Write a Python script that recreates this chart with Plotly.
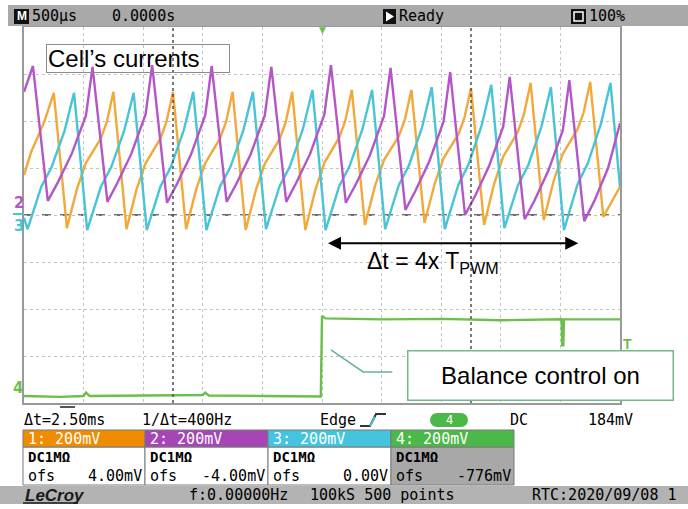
import plotly.graph_objects as go

# ---------------- data (time in ms, amplitude in divisions) ----------------
ch1_t = [0.000, 0.060, 0.170, 0.250,
         0.360, 0.445, 0.520, 0.645, 0.695, 0.750,
         0.860, 0.945, 1.020, 1.145, 1.195, 1.250,
         1.360, 1.445, 1.520, 1.645, 1.695, 1.750,
         1.860, 1.945, 2.020, 2.145, 2.195, 2.250,
         2.360, 2.445, 2.520, 2.645, 2.695, 2.750,
         2.860, 2.945, 3.020, 3.145, 3.195, 3.250,
         3.360, 3.445, 3.520, 3.645, 3.695, 3.750,
         3.860, 3.945, 4.020, 4.145, 4.195, 4.250,
         4.360, 4.445, 4.520, 4.645, 4.695, 4.750,
         4.860, 4.945, 5.000]
ch1_v = [0.85, 1.34, 1.98, 2.60,
         -0.28, 0.56, 1.11, 1.63, 1.98, 2.62,
         -0.30, 0.55, 1.10, 1.63, 1.98, 2.62,
         -0.30, 0.55, 1.10, 1.63, 1.98, 2.62,
         -0.32, 0.53, 1.09, 1.62, 1.97, 2.62,
         -0.32, 0.54, 1.11, 1.65, 2.00, 2.66,
         -0.21, 0.62, 1.17, 1.68, 2.03, 2.66,
         -0.17, 0.66, 1.21, 1.72, 2.07, 2.70,
         -0.21, 0.67, 1.24, 1.78, 2.15, 2.81,
         -0.11, 0.74, 1.30, 1.83, 2.18, 2.83,
         -0.04, 0.35, 0.60]

ch2_t = [0.000, 0.075,
         0.200, 0.285, 0.400, 0.520, 0.575,
         0.700, 0.785, 0.900, 1.020, 1.075,
         1.200, 1.285, 1.400, 1.520, 1.575,
         1.700, 1.785, 1.900, 2.020, 2.075,
         2.200, 2.285, 2.400, 2.520, 2.575,
         2.700, 2.785, 2.900, 3.020, 3.075,
         3.200, 3.285, 3.400, 3.520, 3.575,
         3.700, 3.785, 3.900, 4.020, 4.075,
         4.200, 4.285, 4.400, 4.520, 4.575,
         4.700, 4.785, 4.900, 5.000]
ch2_v = [2.62, 3.17,
         0.30, 0.70, 1.30, 2.12, 3.15,
         0.28, 0.69, 1.30, 2.14, 3.19,
         0.26, 0.67, 1.28, 2.12, 3.17,
         0.28, 0.68, 1.28, 2.12, 3.15,
         0.28, 0.69, 1.30, 2.14, 3.19,
         0.26, 0.66, 1.26, 2.10, 3.13,
         0.11, 0.52, 1.14, 1.99, 3.04,
         0.00, 0.41, 1.03, 1.88, 2.94,
         -0.09, 0.32, 0.95, 1.80, 2.87,
         -0.13, 0.30, 1.00, 1.95]

ch3_t = [0.000,
         0.030, 0.145, 0.230, 0.340, 0.420,
         0.530, 0.645, 0.730, 0.840, 0.920,
         1.030, 1.145, 1.230, 1.340, 1.420,
         1.530, 1.645, 1.730, 1.840, 1.920,
         2.030, 2.145, 2.230, 2.340, 2.420,
         2.530, 2.645, 2.730, 2.840, 2.920,
         3.030, 3.145, 3.230, 3.340, 3.420,
         3.530, 3.645, 3.730, 3.840, 3.920,
         4.030, 4.145, 4.230, 4.340, 4.420,
         4.530, 4.645, 4.730, 4.840, 4.920,
         5.000]
ch3_v = [-0.06,
         -0.30, 0.60, 1.01, 1.79, 2.60,
         -0.32, 0.60, 1.01, 1.79, 2.60,
         -0.32, 0.61, 1.01, 1.80, 2.62,
         -0.32, 0.61, 1.01, 1.80, 2.62,
         -0.30, 0.62, 1.03, 1.83, 2.66,
         -0.32, 0.62, 1.03, 1.83, 2.66,
         -0.30, 0.64, 1.06, 1.87, 2.72,
         -0.30, 0.65, 1.08, 1.91, 2.77,
         -0.28, 0.64, 1.06, 1.87, 2.72,
         -0.32, 0.66, 1.10, 1.94, 2.81,
         0.60]

ch4_t = [0.00, 0.30, 0.50, 0.52, 0.55, 1.00, 1.50, 1.52, 1.55, 2.00, 2.49,
         2.50, 2.53, 3.00, 3.50, 4.00, 4.51, 4.515, 4.525, 4.53, 5.00]
ch4_v = [-3.85, -3.87, -3.85, -3.78, -3.85, -3.84, -3.83, -3.78, -3.84, -3.85, -3.86,
         -2.15, -2.20, -2.22, -2.21, -2.24, -2.22, -2.77, -2.77, -2.22, -2.22]

channel_labels = ["1: 200mV", "2: 200mV", "3: 200mV", "4: 200mV"]
channel_ofs = ["4.00mV", "-4.00mV", "0.00V", "-776mV"]

# ---------------- styling ----------------
W, H = 688, 509
L, R, T, B = 24, 620, 27, 403
MONO = "DejaVu Sans Mono"
SANS = "Liberation Sans"
ORANGE, MAGENTA, CYAN, GREEN = "#f2a93b", "#b455c8", "#48c4d6", "#6cbf4c"


def px(x):
    return (x - L) / (R - L)


def py(y):
    return (B - y) / (B - T)


fig = go.Figure()
for t, v, c in [(ch4_t, ch4_v, GREEN), (ch1_t, ch1_v, ORANGE),
                (ch3_t, ch3_v, CYAN), (ch2_t, ch2_v, MAGENTA)]:
    fig.add_trace(go.Scatter(x=t, y=v, mode="lines", line=dict(color=c, width=2.4),
                             showlegend=False, hoverinfo="skip"))

shapes = []
ann = []


def rect(x0, y0, x1, y1, fill, line=None, lw=0):
    shapes.append(dict(type="rect", xref="paper", yref="paper",
                       x0=px(x0), x1=px(x1), y0=py(y0), y1=py(y1),
                       fillcolor=fill, line=dict(color=line or fill, width=lw), layer="above"))


def txt(x, y, s, size=15, color="black", anchor="left", family=MONO, **kw):
    d = dict(xref="paper", yref="paper", x=px(x), y=py(y), text=s, showarrow=False,
             xanchor=anchor, yanchor="middle", font=dict(size=size, color=color, family=family))
    d.update(kw)
    ann.append(d)


# center reference line and cursors
shapes.append(dict(type="line", xref="x", yref="y", x0=0, x1=5, y0=0, y1=0,
                   line=dict(color="#404040", width=1.5, dash="dash"), layer="below"))
for cx in (1.25, 3.75):
    shapes.append(dict(type="line", xref="x", yref="y", x0=cx, x1=cx, y0=-4, y1=4,
                       line=dict(color="#505050", width=1.5, dash="dot"), layer="above"))

# header bar
rect(8, 5, 688, 26, "#a9a9a9")
rect(14, 9, 29, 24, "#111111")
txt(21.5, 16.5, "<b>M</b>", size=12, color="white", anchor="center", family=SANS)
txt(30, 16, "500µs", size=15)
txt(110, 16, "0.0000s", size=15)
rect(383, 9, 396, 24, "#111111")
shapes.append(dict(type="path", xref="paper", yref="paper",
                   path=f"M {px(386)},{py(11.5)} L {px(394)},{py(16.5)} L {px(386)},{py(21.5)} Z",
                   fillcolor="white", line=dict(width=0), layer="above"))
txt(397, 16, "Ready", size=15)
rect(571, 9, 586, 24, "#111111")
shapes.append(dict(type="rect", xref="paper", yref="paper", x0=px(574), x1=px(583),
                   y0=py(12), y1=py(21), line=dict(color="white", width=1.5), layer="above"))
txt(587, 16, "100%", size=15)

# trigger markers
txt(322, 30, "▼", size=9, color=GREEN, anchor="center", family="DejaVu Sans")
txt(627, 344, "<b>T</b>", size=14, color=GREEN, anchor="center", family=SANS)

# channel reference markers
txt(19, 203, "<b>2</b>", size=15, color=MAGENTA, anchor="center", family="DejaVu Sans")
shapes.append(dict(type="line", xref="paper", yref="paper", x0=px(13), x1=px(24),
                   y0=py(214), y1=py(214), line=dict(color=CYAN, width=2)))
txt(19, 226, "<b>3</b>", size=15, color=CYAN, anchor="center", family="DejaVu Sans")
txt(18, 388, "<b>4</b>", size=15, color=GREEN, anchor="center", family="DejaVu Sans")
shapes.append(dict(type="line", xref="paper", yref="paper", x0=px(60), x1=px(75),
                   y0=py(407), y1=py(407), line=dict(color="#555555", width=2)))

# in-plot annotations
ann.append(dict(xref="x", yref="y", x=0.96, y=3.32, text="Cell’s currents", showarrow=False,
                font=dict(size=24, color="black", family=SANS), align="left",
                width=180, height=25, bordercolor="#8c8c8c", borderwidth=1, borderpad=1,
                xanchor="center", yanchor="middle"))
ann.append(dict(xref="x", yref="y", x=4.65, y=-0.60, ax=2.525, ay=-0.60, axref="x", ayref="y",
                text=" ", showarrow=True, arrowhead=2, arrowsize=1.3, arrowwidth=2,
                arrowcolor="black", arrowside="end+start", font=dict(size=10)))
ann.append(dict(xref="x", yref="y", x=2.86, y=-1.0, text="Δt = 4x T<sub>PWM</sub>", showarrow=False,
                font=dict(size=23, color="black", family=SANS), xanchor="left", yanchor="middle"))
shapes.append(dict(type="path", xref="x", yref="y",
                   path="M 2.575,-2.87 L 2.845,-3.34 L 3.09,-3.34",
                   line=dict(color="#62b596", width=1.5)))
ann.append(dict(xref="x", yref="y", x=4.33, y=-3.42, text="Balance control on", showarrow=False,
                font=dict(size=24, color="black", family=SANS), bgcolor="white",
                width=260, height=44, bordercolor="#72b98a", borderwidth=1.5, borderpad=2,
                xanchor="center", yanchor="middle"))

# bottom status row
txt(22, 420, "Δt=2.50ms", size=15)
txt(140, 420, "1/Δt=400Hz", size=15)
txt(318, 420, "Edge", size=15)
shapes.append(dict(type="path", xref="paper", yref="paper",
                   path=f"M {px(360)},{py(426)} L {px(370)},{py(426)} L {px(376)},{py(414)} L {px(386)},{py(414)}",
                   line=dict(color="#333333", width=2)))
shapes.append(dict(type="line", xref="paper", yref="paper", x0=px(370), x1=px(375),
                   y0=py(426), y1=py(417), line=dict(color=CYAN, width=2)))
rect(437, 413, 461, 427, "#4cb848")
for cx in (437, 461):
    shapes.append(dict(type="circle", xref="paper", yref="paper", x0=px(cx - 7), x1=px(cx + 7),
                       y0=py(413), y1=py(427), fillcolor="#4cb848", line=dict(width=0), layer="above"))
txt(449, 420, "4", size=12, color="white", anchor="center")
txt(508, 420, "DC", size=15)
txt(586, 420, "184mV", size=15)

# channel boxes
box_x = [(23, 145), (145, 268), (268, 391), (391, 514)]
box_col = ["#f08c00", "#a645b5", "#45c4df", "#4cb848"]
box_low = ["white", "white", "white", "#a8a8a8"]
for (x0, x1), col, low, lab, ofs in zip(box_x, box_col, box_low, channel_labels, channel_ofs):
    rect(x0, 447, x1, 485, low, line="#7a7a7a", lw=1)
    rect(x0, 430, x1, 447, col, line="#7a7a7a", lw=1)
    txt(x0 + 3, 438.5, lab, size=15, color="white")
    txt(x0 + 3, 457, "<b>DC1MΩ</b>", size=14)
    txt(x0 + 3, 476, "ofs", size=15)
    txt(x1 - 1, 476, ofs, size=15, anchor="right")

# footer bar
rect(0, 486, 688, 504, "#b3b3b3")
txt(23, 495, "<b><i>LeCroy</i></b>", size=17, color="#1a1a1a", family=SANS)
shapes.append(dict(type="line", xref="paper", yref="paper", x0=px(23), x1=px(78),
                   y0=py(503), y1=py(503), line=dict(color="#1a1a1a", width=1.5)))
txt(187, 495, "f:0.00000Hz", size=15)
txt(308, 495, "100kS 500 points", size=15)
txt(530, 495, "RTC:2020/09/08 1", size=15)

fig.update_layout(
    width=W, height=H,
    margin=dict(l=L, r=W - R, t=T, b=H - B),
    paper_bgcolor="white", plot_bgcolor="white",
    shapes=shapes, annotations=ann,
    xaxis=dict(range=[0, 5], dtick=0.5, showgrid=True, gridcolor="#c4c4c4", griddash="dot",
               gridwidth=1, zeroline=False, showticklabels=False, ticks="",
               showline=True, mirror=True, linecolor="#9a9a9a", linewidth=2, fixedrange=True),
    yaxis=dict(range=[-4, 4], dtick=1, showgrid=True, gridcolor="#c4c4c4", griddash="dot",
               gridwidth=1, zeroline=False, showticklabels=False, ticks="",
               showline=True, mirror=True, linecolor="#9a9a9a", linewidth=2, fixedrange=True),
)

fig.write_html("out.html", config={"displayModeBar": False},
               post_script="document.body.style.margin='0px';document.body.style.padding='0px';"
                           "document.body.style.overflow='hidden';")
